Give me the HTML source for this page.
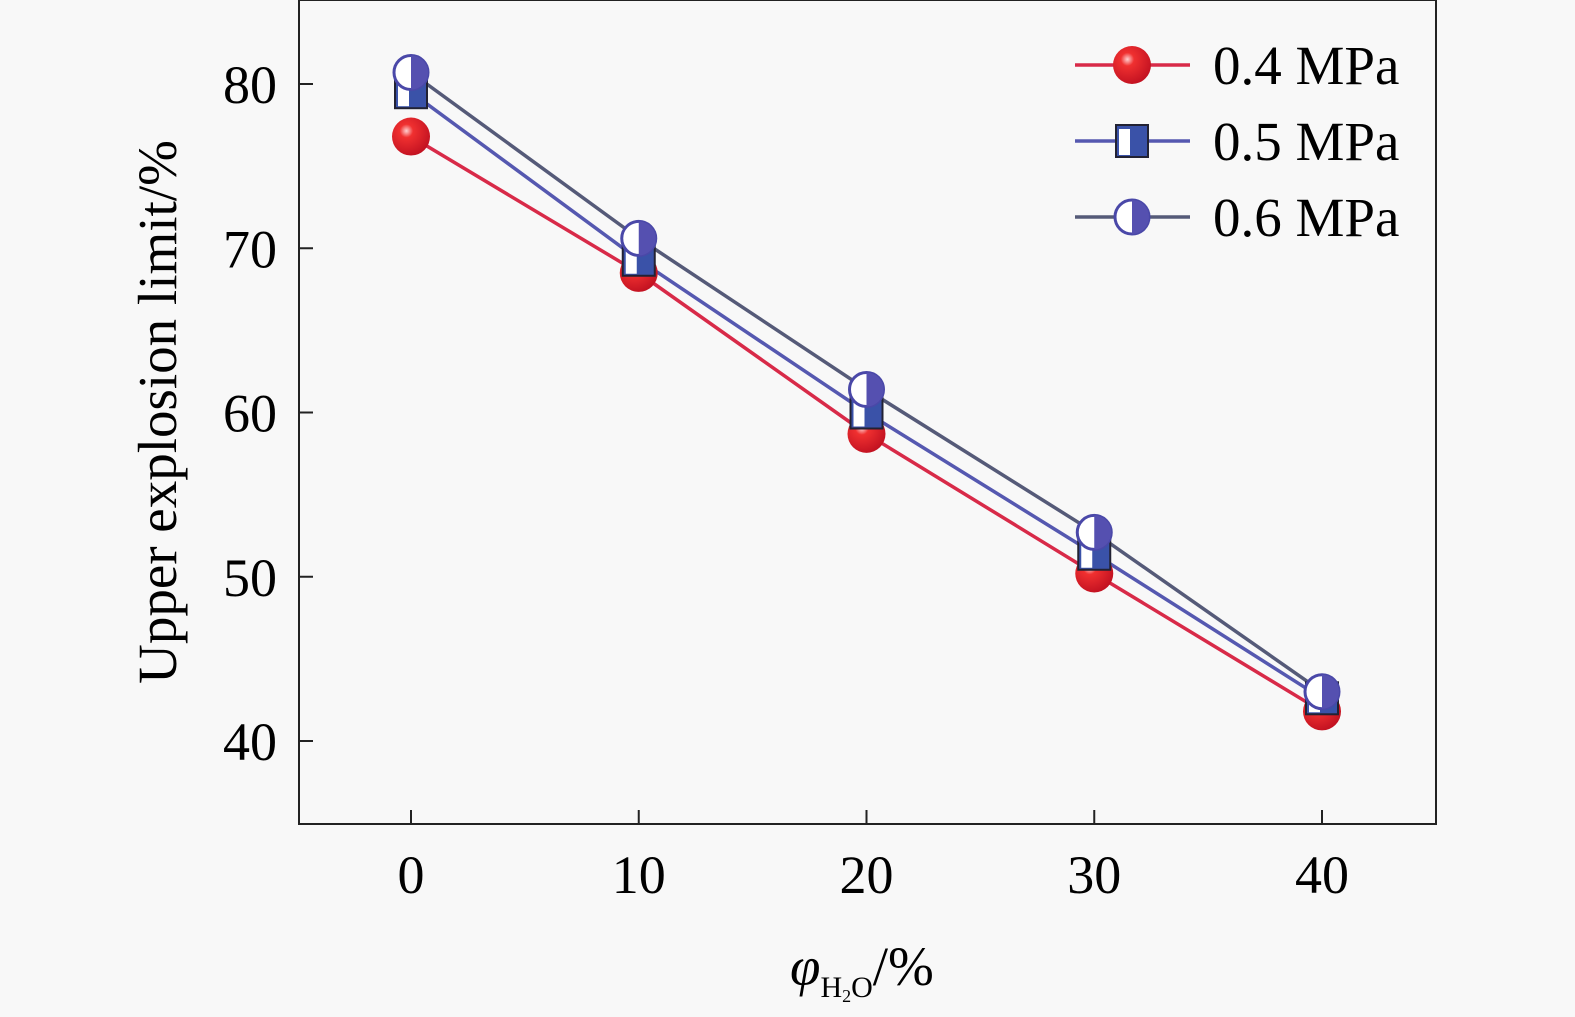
<!DOCTYPE html>
<html><head><meta charset="utf-8"><style>
html,body{margin:0;padding:0;background:#f8f8f8;}
svg{display:block;font-family:"Liberation Serif",serif;}
</style></head><body>
<svg id="chart" width="1575" height="1017" viewBox="0 0 1575 1017">
<defs>
<radialGradient id="redball" cx="0.38" cy="0.35" r="0.7">
<stop offset="0" stop-color="#ffd0d0"/><stop offset="0.25" stop-color="#f03030"/><stop offset="1" stop-color="#c01020"/>
</radialGradient>
</defs>
<rect x="299" y="0" width="1137" height="824" fill="#f8f8f8" stroke="#222" stroke-width="2"/>
<g id="axes"></g>
<g id="series"></g>
<text x="176" y="412" font-size="55" text-anchor="middle" transform="rotate(-90 176 412)">Upper explosion limit/%</text>
<text x="790" y="985" font-size="55"><tspan font-style="italic">φ</tspan><tspan font-size="30" dy="12">H</tspan><tspan font-size="18" dy="5">2</tspan><tspan font-size="30" dy="-5">O</tspan><tspan dy="-12">/%</tspan></text>
<g id="legend"></g>
</svg>
<script>
const xCats=[0,10,20,30,40];
const xTicks=["0","10","20","30","40"];
const yTicks=[40,50,60,70,80];
const names=["0.4 MPa","0.5 MPa","0.6 MPa"];
const s04=[76.8,68.5,58.7,50.2,41.8];
const s05=[79.5,69.3,60.0,51.4,42.6];
const s06=[80.7,70.6,61.4,52.7,43.0];
const colors=["#d82a48","#5558b0","#555a78"];
const NS="http://www.w3.org/2000/svg";
function X(v){return 411+(v-0)*(1322-411)/40;}
function Y(v){return 741-(v-40)*(741-84)/40;}
function mk(tag,a,p){const e=document.createElementNS(NS,tag);for(const k in a)e.setAttribute(k,a[k]);p.appendChild(e);return e;}
const axes=document.getElementById('axes');
yTicks.forEach(t=>{
 const l=mk('line',{x1:299,x2:313,y1:Y(t),y2:Y(t),stroke:'#222','stroke-width':2},axes);
 
 
 const tx=mk('text',{x:277,y:Y(t)+19,'font-size':54,'text-anchor':'end'},axes);
 tx.textContent=t;
 
 
});
xCats.forEach((c,i)=>{
 const l=mk('line',{x1:X(c),x2:X(c),y1:824,y2:810,stroke:'#222','stroke-width':2},axes);
 
 
 const tx=mk('text',{x:X(c),y:893,'font-size':54,'text-anchor':'middle'},axes);
 tx.textContent=xTicks[i];
 
 
});
function marker(k,cx,cy,p){
 if(k===0){mk('circle',{cx:cx,cy:cy,r:19,fill:'url(#redball)'},p);}
 else if(k===1){
  mk('rect',{x:cx-16,y:cy-16,width:32,height:32,fill:'#3a52a8',stroke:'#223',"stroke-width":2},p);
  mk('rect',{x:cx-13,y:cy-12,width:11,height:26,fill:'#fff'},p);
 } else {
  mk('circle',{cx:cx,cy:cy,r:17,fill:'#fff',stroke:'#4a48a8','stroke-width':3},p);
  mk('path',{d:`M${cx} ${cy-17} A17 17 0 0 1 ${cx} ${cy+17} Z`,fill:'#5550b0'},p);
 }
}
const ser=document.getElementById('series');
[s04,s05,s06].forEach((s,k)=>{
 const g=mk('g',{},ser);
 
 
 const pl=mk('polyline',{points:s.map((v,i)=>X(xCats[i])+','+Y(v)).join(' '),fill:'none',stroke:colors[k],'stroke-width':3.5},g);
 
 
});
[s04,s05,s06].forEach((s,k)=>{
 const g=mk('g',{},ser);
 
 
 s.forEach((v,i)=>marker(k,X(xCats[i]),Y(v),g));
});
const leg=document.getElementById('legend');
names.forEach((n,k)=>{
 const y=65+k*76;
 const g=mk('g',{},leg);
 
 
 mk('line',{x1:1075,x2:1190,y1:y,y2:y,stroke:colors[k],'stroke-width':3.5},g);
 marker(k,1132,y,g);
 const t=mk('text',{x:1213,y:y+19,'font-size':55},g);
 t.textContent=n;
});
</script>
</body></html>
